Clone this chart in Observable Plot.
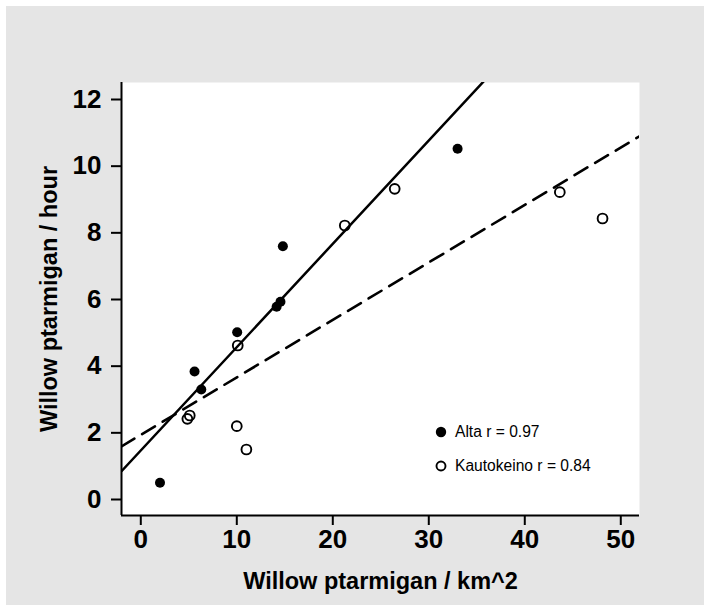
<!DOCTYPE html>
<html>
<head>
<meta charset="utf-8">
<script src="https://cdn.jsdelivr.net/npm/d3@7"></script>
<script src="https://cdn.jsdelivr.net/npm/@observablehq/plot@0.6"></script>
<style>
  html, body { margin: 0; padding: 0; background: #ffffff; width: 704px; height: 605px; overflow: hidden; }
  #bg { position: absolute; left: 6px; top: 6px; right: 0; bottom: 0; background: #e5e5e5; }
  #chart { position: absolute; left: 0; top: 0; }
  .leg { position: absolute; display: flex; align-items: center; font-family: 'Liberation Sans', Arial, sans-serif; font-size: 15.6px; color: #000; height: 20px; }
  .leg svg { margin-right: 8px; }
</style>
</head>
<body>
<div id="bg"></div>
<div id="chart"></div>
<div id="legend"></div>
<script>
// ---- data ----
const altaX = [2.0, 5.6, 6.3, 10.04, 14.15, 14.55, 14.8, 33.0];
const altaY = [0.5, 3.84, 3.3, 5.02, 5.78, 5.93, 7.6, 10.52];
const kautoX = [4.85, 5.1, 10.1, 10.0, 11.0, 21.25, 26.45, 43.65, 48.1];
const kautoY = [2.42, 2.52, 4.62, 2.2, 1.5, 8.22, 9.32, 9.22, 8.43];

// fitted regression lines (intercept, slope) as drawn in the reference
const fitGroups = ["Alta", "Kautokeino"];
const fitIntercepts = [1.47, 1.94];
const fitSlopes = [0.31, 0.1724];

const legendLabels = ["Alta r = 0.97", "Kautokeino r = 0.84"];

const xTicks = [0, 10, 20, 30, 40, 50];
const yTicks = [0, 2, 4, 6, 8, 10, 12];
const xDomain = [-2.01, 51.95];
const yDomain = [-0.48, 12.51];
const xTitle = "Willow ptarmigan / km^2";
const yTitle = "Willow ptarmigan / hour";

// ---- build tables ----
const alta = altaX.map((x, i) => ({x, y: altaY[i]}));
const kauto = kautoX.map((x, i) => ({x, y: kautoY[i]}));
const fitLine = (g) => {
  const i = fitGroups.indexOf(g);
  return xDomain.map(x => ({x, y: fitIntercepts[i] + fitSlopes[i] * x}));
};

const font = "'Liberation Sans', Arial, sans-serif";

const chart = Plot.plot({
  width: 704,
  height: 605,
  marginLeft: 121,
  marginRight: 65,
  marginTop: 82,
  marginBottom: 90,
  x: {domain: xDomain},
  y: {domain: yDomain},
  style: {background: "transparent", fontFamily: font, color: "#000"},
  marks: [
    Plot.frame({fill: "white", stroke: "none"}),
    Plot.line(fitLine("Kautokeino"), {x: "x", y: "y", stroke: "#000", strokeWidth: 2.6, strokeDasharray: "15,9", clip: true}),
    Plot.line(fitLine("Alta"), {x: "x", y: "y", stroke: "#000", strokeWidth: 2.5, clip: true}),
    Plot.dot(kauto, {x: "x", y: "y", r: 4.9, stroke: "#000", strokeWidth: 1.9, fill: "none"}),
    Plot.dot(alta, {x: "x", y: "y", r: 5, fill: "#000", stroke: "none"}),
    Plot.ruleX([xDomain[0]], {stroke: "#000", strokeWidth: 2}),
    Plot.ruleY([yDomain[0]], {stroke: "#000", strokeWidth: 2}),
    Plot.axisX({ticks: xTicks, tickSize: 10, tickPadding: 4, fontSize: 26, fontWeight: "bold", strokeWidth: 2, label: null}),
    Plot.axisY({ticks: yTicks, tickSize: 10, tickPadding: 10, fontSize: 26, fontWeight: "bold", strokeWidth: 2, label: null}),
    Plot.text([xTitle], {text: d => d, frameAnchor: "bottom", textAnchor: "middle", lineAnchor: "bottom", dy: 73, fontSize: 23.5, fontWeight: "bold"}),
    Plot.text([yTitle], {text: d => d, frameAnchor: "left", textAnchor: "middle", lineAnchor: "bottom", rotate: -90, dx: -65, fontSize: 23.5, fontWeight: "bold"})
  ]
});
document.getElementById("chart").appendChild(chart);

// ---- legend ----
const legend = document.getElementById("legend");
const legendTops = [422.3, 455.7];
legendLabels.forEach((lab, i) => {
  const row = document.createElement("div");
  row.className = "leg";
  row.style.left = "435px";
  row.style.top = legendTops[i] + "px";
  const filled = i === 0;
  row.innerHTML = `<svg width="12" height="12" viewBox="0 0 12 12"><circle cx="6" cy="6" r="${filled ? 5.2 : 4.5}" fill="${filled ? '#000' : 'none'}" stroke="#000" stroke-width="${filled ? 0 : 1.9}"/></svg><span>${lab}</span>`;
  legend.appendChild(row);
});
</script>
</body>
</html>
